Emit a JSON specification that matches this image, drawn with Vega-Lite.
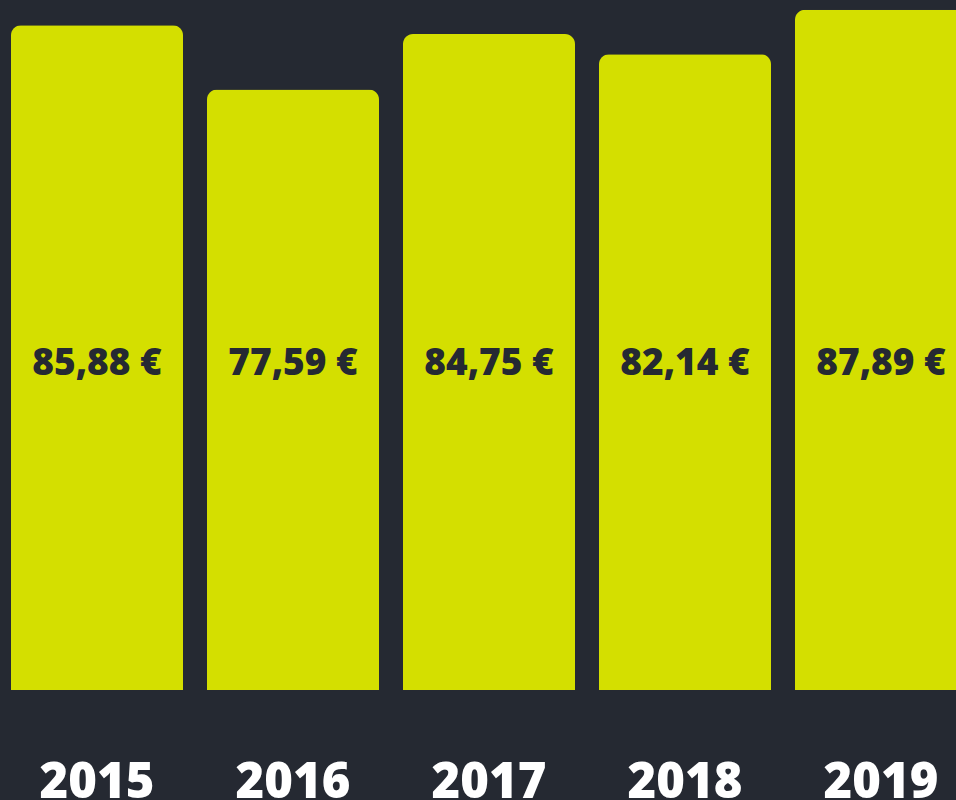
{
  "$schema": "https://vega.github.io/schema/vega-lite/v6.json",
  "width": 978,
  "height": 690,
  "autosize": {"type": "none"},
  "padding": {"left": 0, "top": 0, "right": 0, "bottom": 110},
  "background": "#252932",
  "config": {"view": {"stroke": null}, "font": "Open Sans"},
  "data": {"values": [
    {"year": "2015", "value": 85.88, "label": "85,88 €"},
    {"year": "2016", "value": 77.59, "label": "77,59 €"},
    {"year": "2017", "value": 84.75, "label": "84,75 €"},
    {"year": "2018", "value": 82.14, "label": "82,14 €"},
    {"year": "2019", "value": 87.89, "label": "87,89 €"}
  ]},
  "encoding": {
    "x": {"field": "year", "type": "nominal", "sort": null,
      "scale": {"paddingInner": 0.1224, "paddingOuter": 0.0561},
      "axis": {"title": null, "domain": false, "ticks": false, "labelAngle": 0,
        "labelFont": "Open Sans", "labelFontWeight": 800, "labelFontSize": 49,
        "labelColor": "#ffffff", "labelPadding": 68, "labelBaseline": "top"}}
  },
  "layer": [
    {"mark": {"type": "bar", "color": "#d4df00", "cornerRadiusTopLeft": 10, "cornerRadiusTopRight": 10},
     "encoding": {"y": {"field": "value", "type": "quantitative", "scale": {"domain": [0, 89.15], "nice": false}, "axis": null}}},
    {"mark": {"type": "text", "font": "Open Sans", "fontWeight": 800, "fontSize": 37, "color": "#252932", "baseline": "middle", "dy": 3},
     "encoding": {"y": {"datum": 42.5, "type": "quantitative"}, "text": {"field": "label"}}}
  ]
}
